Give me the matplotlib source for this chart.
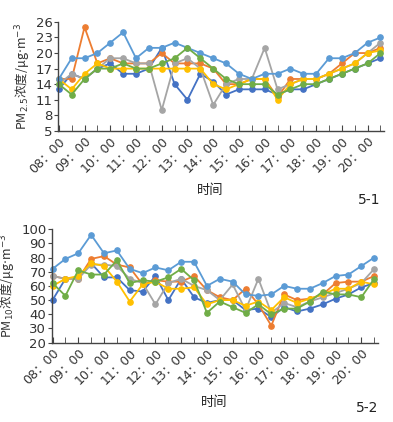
import matplotlib.pyplot as plt
import numpy as np

plt.rcParams['font.family'] = ['DejaVu Sans', 'Noto Sans CJK SC']

# half-hour sampling times, 08:00 .. 20:30
times = ['%02d：%s' % (8 + i // 2, '00' if i % 2 == 0 else '30') for i in range(26)]
hour_labels = ['%02d：00' % h for h in range(8, 21)]

# PM2.5 (ug/m3) for each sampling site
pm25_blue = [13, 16, 15, 17, 18, 16, 16, 17, 21, 14, 11, 16, 14.5, 12, 13, 13, 13, 12, 13, 13, 14, 15, 16, 17, 18, 19]
pm25_orange = [15, 15, 25, 18, 19, 18, 18, 18, 20, 18, 18, 18, 17, 14, 14, 15, 15, 11.5, 15, 15, 15, 16, 18, 20, 20, 21]
pm25_gray = [14, 16, 15, 17, 19, 19, 18, 18, 9, 18, 19, 17, 10, 14, 15, 15, 21, 13, 14, 15, 15, 16, 17, 18, 20, 22]
pm25_yellow = [15, 13, 16, 18, 17, 17, 17, 17, 17, 17, 17, 17, 14, 13, 14, 15, 15, 11, 14, 15, 15, 16, 17, 18, 20, 20.5]
pm25_lblue = [15, 19, 19, 20, 22, 24, 19, 21, 21, 22, 21, 20, 19, 18, 16, 15, 16, 16, 17, 16, 16, 19, 19, 20, 22, 23]
pm25_green = [14, 12, 15, 17, 17, 18, 17, 17, 18, 19, 21, 19, 17, 15, 14, 14, 14, 12, 13, 14, 14, 15, 16, 17, 18, 20]

# PM10 (ug/m3)
pm10_blue = [50, 65, 66, 76, 66, 66, 57, 56, 67, 50, 65, 52, 48, 50, 50, 43, 44, 38, 45, 42, 44, 47, 51, 54, 59, 62]
pm10_orange = [67, 65, 65, 79, 81, 75, 73, 61, 64, 63, 63, 67, 57, 52, 50, 58, 47, 32, 54, 50, 51, 54, 62, 63, 63, 67]
pm10_gray = [67, 65, 65, 75, 75, 74, 65, 62, 47, 62, 65, 60, 57, 50, 61, 43, 65, 41, 48, 45, 49, 52, 55, 58, 62, 72]
pm10_yellow = [60, 65, 67, 76, 74, 63, 49, 61, 63, 58, 58, 59, 47, 50, 50, 46, 49, 43, 52, 48, 51, 54, 58, 58, 63, 61]
pm10_lblue = [72, 79, 83, 96, 83, 85, 72, 69, 73, 71, 77, 77, 60, 65, 63, 54, 53, 54, 60, 58, 58, 62, 67, 68, 74, 80]
pm10_green = [62, 53, 71, 68, 68, 78, 62, 64, 63, 66, 72, 64, 41, 49, 45, 41, 47, 40, 44, 44, 49, 56, 54, 54, 52, 65]

colors = ['#4472C4', '#ED7D31', '#A5A5A5', '#FFC000', '#5B9BD5', '#70AD47']
pm25 = [pm25_blue, pm25_orange, pm25_gray, pm25_yellow, pm25_lblue, pm25_green]
pm10 = [pm10_blue, pm10_orange, pm10_gray, pm10_yellow, pm10_lblue, pm10_green]

fig = plt.figure(figsize=(3.93, 4.22), dpi=100)
ax1 = fig.add_axes([0.148, 0.690, 0.830, 0.258])
ax2 = fig.add_axes([0.132, 0.188, 0.830, 0.269])

x = np.arange(len(times))


def style(ax, yticks, ylabel):
    for s in ['top', 'right']:
        ax.spines[s].set_visible(False)
    for s in ['left', 'bottom']:
        ax.spines[s].set_color('#444444')
        ax.spines[s].set_linewidth(1.0)
    ax.set_xlim(-0.05, 25.3)
    ax.set_ylim(yticks[0], yticks[-1])
    ax.set_yticks(yticks)
    ax.tick_params(axis='y', length=3, labelsize=9.5, pad=1, color='#444444', labelcolor='#333333')
    ax.set_xticks(x, minor=True)
    ax.set_xticks(x[::2][:13])
    ax.set_xticklabels(hour_labels, rotation=45, ha='right', va='top',
                       rotation_mode='anchor', fontsize=9)
    ax.tick_params(axis='x', which='both', direction='in', length=4, color='#444444',
                   pad=3, labelcolor='#333333')
    ax.set_ylabel(ylabel, fontsize=9, labelpad=2, color='#333333',
                  family=['Noto Sans CJK SC', 'DejaVu Sans'])


for vals, c in zip(pm25, colors):
    ax1.plot(x, vals, color=c, lw=1.3, marker='o', ms=3.8, clip_on=False)
for vals, c in zip(pm10, colors):
    ax2.plot(x, vals, color=c, lw=1.3, marker='o', ms=3.8, clip_on=False)

style(ax1, list(range(5, 27, 3)), 'PM$_{2.5}$浓度/μg$\\cdot$m$^{-3}$')
style(ax2, list(range(20, 101, 10)), 'PM$_{10}$浓度/μg$\\cdot$m$^{-3}$')

fig.text(0.535, 0.548, '时间', ha='center', va='center', fontsize=9.5, color='#222222')
fig.text(0.94, 0.525, '5-1', ha='center', va='center', fontsize=10, color='#222222')
fig.text(0.545, 0.047, '时间', ha='center', va='center', fontsize=9.5, color='#222222')
fig.text(0.935, 0.033, '5-2', ha='center', va='center', fontsize=10, color='#222222')

fig.savefig('out.png', dpi=100)
